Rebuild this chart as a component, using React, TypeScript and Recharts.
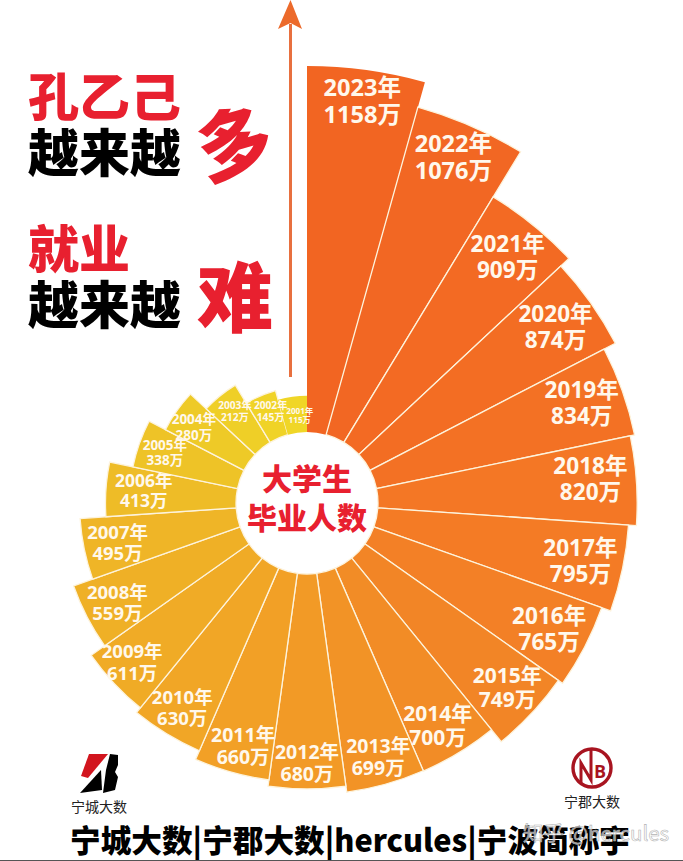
import { PieChart, Pie, Sector } from "recharts";

const years = [2023, 2022, 2021, 2020, 2019, 2018, 2017, 2016, 2015, 2014, 2013, 2012, 2011, 2010, 2009, 2008, 2007, 2006, 2005, 2004, 2003, 2002, 2001];
const graduates = [1158, 1076, 909, 874, 834, 820, 795, 765, 749, 700, 699, 680, 660, 630, 611, 559, 495, 413, 338, 280, 212, 145, 115];

const colors = ["#F26522", "#F26723", "#F36A23", "#F36D23", "#F37124", "#F47725", "#F47B25", "#F38026", "#F28526", "#F28C26", "#F29326", "#F29A26", "#F2A026", "#F1A626", "#F0AB26", "#EFB026", "#EFB527", "#EEBC27", "#EEC327", "#EECA27", "#EFCF27", "#F0D327", "#F0D627"];
const labelSizes = [23.6, 23.6, 22.6, 22.6, 22.6, 22.6, 22.6, 22.6, 21, 21, 19.5, 19.5, 19.5, 18.5, 18.5, 18.5, 18.5, 17.5, 13.5, 13.5, 10.2, 10.2, 8.2];
const labelInsets = [31, 36, 42, 43, 43, 46, 43, 40, 35, 33, 28, 26, 28, 30, 29, 33, 35, 36, 27, 21, 19, 18, 17];
// small hand nudges, the source labels are not exactly on the mid angle
const labelDx = [0, -3, 1, 0, 0, 0, 0, 0, 1, -4, 0, 0, 4, 0, -3, 1, -1, 2, 0, 0, 3, 3, 5];
const labelDy = [0, -2, -1, -1, -2, -5, 1, 0, -2, 1, 0, 0, 1, 0, -1, 1, 1, -1, 0, 4, 1, -1, 2];

const data = years.map((year, i) => ({ year, value: graduates[i], slice: 1, index: i }));

const CX = 307;
const CY = 503;
const INNER = 71;
const MAX_R = 437;
const radiusOf = (v: number) => INNER + ((MAX_R - INNER) * v) / 1158;

const FONT = "'Open Sans', 'Noto Sans CJK SC', sans-serif";
const CJK = "'Noto Sans CJK SC', sans-serif";
const RED = "#E8202F";

const RoseSector = (props: any) => {
  const i = props.payload?.index ?? props.index;
  const edge = i === 0 || i === years.length - 1;
  return (
    <Sector
      cx={props.cx}
      cy={props.cy}
      startAngle={props.startAngle}
      endAngle={props.endAngle}
      innerRadius={INNER}
      outerRadius={radiusOf(graduates[i])}
      fill={colors[i]}
      stroke={edge ? "none" : "#FDF3DC"}
      strokeWidth={1.3}
    />
  );
};

const RoseLabel = (props: any) => {
  const i = props.payload?.index ?? props.index;
  const r = radiusOf(graduates[i]) - labelInsets[i];
  const a = (props.midAngle * Math.PI) / 180;
  const x = CX + r * Math.cos(a) + labelDx[i];
  const y = CY - r * Math.sin(a) + labelDy[i];
  const size = labelSizes[i];
  return (
    <text x={x} y={y} textAnchor="middle" fill="#FFF8EC" fontFamily={FONT} fontWeight={700} fontSize={size}>
      <tspan x={x} dy={-size * 0.22}>{years[i]}年</tspan>
      <tspan x={x} dy={size * 1.15}>{graduates[i]}万</tspan>
    </text>
  );
};

const Title = ({ x, y, size, fill, children, ...rest }: any) => (
  <text x={x} y={y} fontSize={size} fill={fill} fontFamily={CJK} fontWeight={900} {...rest}>
    {children}
  </text>
);

export default function App() {
  return (
    <div style={{ position: "absolute", left: 0, top: 0, width: 683, height: 861, background: "#fff" }}>
      <PieChart width={683} height={861} margin={{ top: 0, right: 0, bottom: 0, left: 0 }}>
        <Pie
          data={data}
          dataKey="slice"
          cx={CX}
          cy={CY}
          innerRadius={INNER}
          outerRadius={MAX_R}
          startAngle={90}
          endAngle={-270}
          stroke="none"
          isAnimationActive={false}
          shape={RoseSector}
          label={RoseLabel}
          labelLine={false}
        />

        <line x1={290.5} y1={24} x2={290.5} y2={377} stroke="#E8703F" strokeWidth={3} />
        <polygon points="290.5,0 302,29 290.5,23 278,29" fill="#EC6A2B" />

        <Title x={28} y={116} size={51} fill={RED}>孔乙己</Title>
        <Title x={28} y={172} size={51} fill="#000">越来越</Title>
        <Title x={28} y={268} size={51} fill={RED}>就业</Title>
        <Title x={28} y={324} size={51} fill="#000">越来越</Title>
        <Title x={0} y={0} size={75} fill={RED} transform="translate(206,180) rotate(-16)">多</Title>
        <Title x={197} y={326} size={76} fill={RED}>难</Title>

        <Title x={CX} y={490} size={30} fill={RED} textAnchor="middle">大学生</Title>
        <Title x={CX} y={529} size={30} fill={RED} textAnchor="middle">毕业人数</Title>

        <Title x={70} y={852} size={31} fill="#000" textLength={560} lengthAdjust="spacingAndGlyphs">宁城大数|宁郡大数|hercules|宁波简称宇</Title>
        <text x={523} y={841} fontSize={20.5} fill="#fff" fillOpacity={0.6} stroke="#B4B4B4" strokeWidth={0.6} fontFamily={CJK}>知乎 @hercules</text>
        <line x1={0} y1={860.5} x2={683} y2={860.5} stroke="#555" strokeWidth={1} />

        {/* logos */}
        <polygon points="89,754 108,754 88,778 81,776" fill="#D2151E" />
        <polygon points="80,793 101,770 102,790" fill="#000" />
        <polygon points="110,754 118,755 118,765 115,772 118,777 115,790 103,793 106,770" fill="#000" />
        <text x={99} y={812} textAnchor="middle" fontSize={14} fill="#222" fontFamily={CJK}>宁城大数</text>
        <circle cx={592} cy={768} r={19} fill="none" stroke="#A81420" strokeWidth={3.4} />
        <polyline points="581,783 581,763 591,780 591,749" fill="none" stroke="#A81420" strokeWidth={3} />
        <text x={600} y={778} textAnchor="middle" fontSize={18} fontWeight={700} fill="#A81420" fontFamily="'Open Sans', sans-serif">B</text>
        <text x={592} y={807} textAnchor="middle" fontSize={14} fill="#222" fontFamily={CJK}>宁郡大数</text>
      </PieChart>
    </div>
  );
}
